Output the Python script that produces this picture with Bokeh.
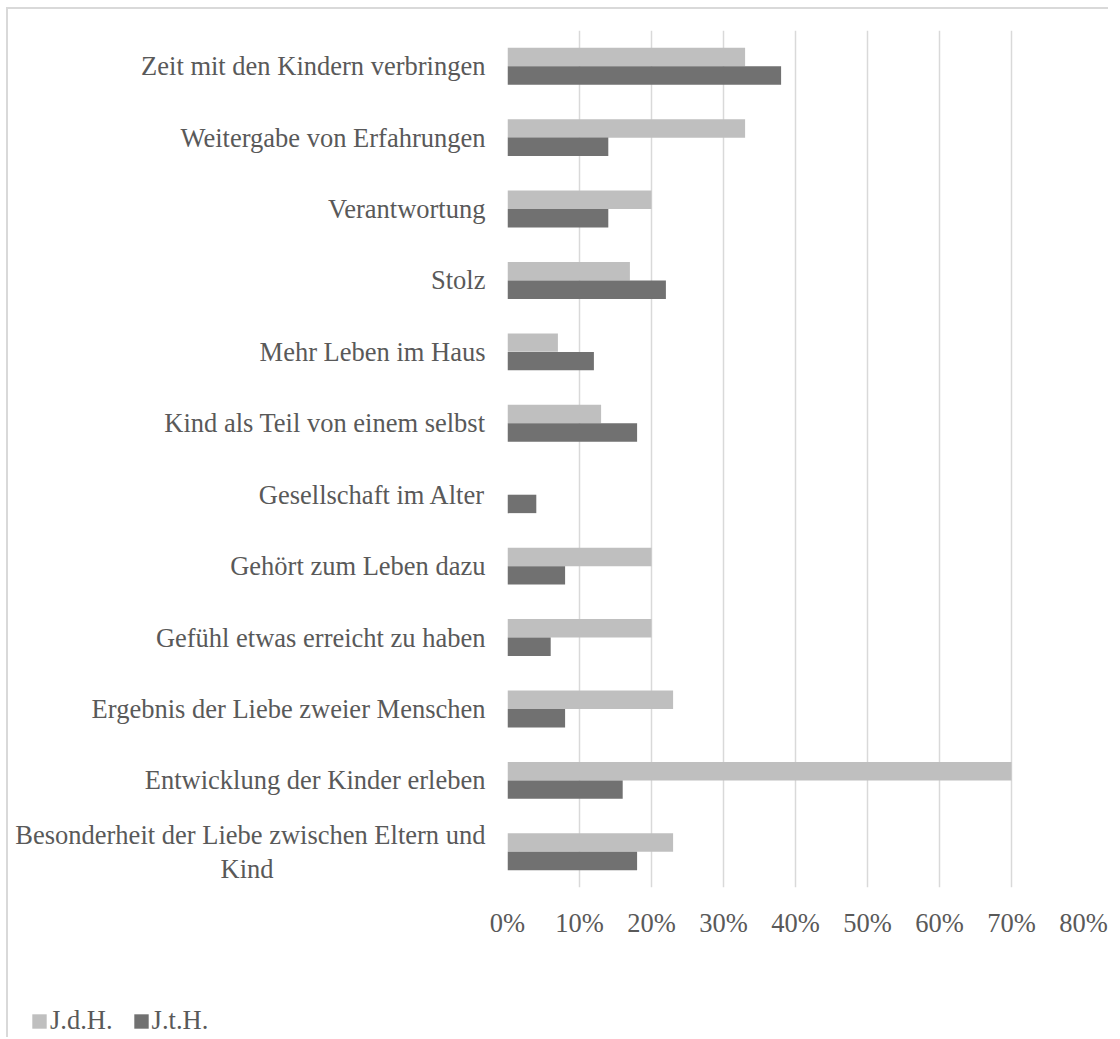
from bokeh.plotting import figure
from bokeh.layouts import column
from bokeh.models import FactorRange, Range1d, FixedTicker, NumeralTickFormatter, Legend, LegendItem, ColumnDataSource
from bokeh.transform import dodge
from bokeh.embed import file_html
from bokeh.resources import INLINE

categories = [
    "Zeit mit den Kindern verbringen",
    "Weitergabe von Erfahrungen",
    "Verantwortung",
    "Stolz",
    "Mehr Leben im Haus",
    "Kind als Teil von einem selbst",
    "Gesellschaft im Alter",
    "Gehört zum Leben dazu",
    "Gefühl etwas erreicht zu haben",
    "Ergebnis der Liebe zweier Menschen",
    "Entwicklung der Kinder erleben",
    "Besonderheit der Liebe zwischen Eltern und\nKind" + "\u00a0" * 32,
]
jdh = [0.33, 0.33, 0.20, 0.17, 0.07, 0.13, 0.0, 0.20, 0.20, 0.23, 0.70, 0.23]
jth = [0.38, 0.14, 0.14, 0.22, 0.12, 0.18, 0.04, 0.08, 0.06, 0.08, 0.16, 0.18]
series_names = ["J.d.H.", "J.t.H."]
series_colors = ["#bfbfbf", "#717171"]
x_ticks = [0.0, 0.1, 0.2, 0.3, 0.4, 0.5, 0.6, 0.7, 0.8]

FONT = "Liberation Serif"
TXT = "#595959"
FS = "26.5px"
W = 1100

src = ColumnDataSource(dict(cat=categories, jdh=jdh, jth=jth))

p = figure(
    width=W, height=958,
    y_range=FactorRange(factors=list(reversed(categories))),
    x_range=Range1d(0, 0.8),
    output_backend="svg", toolbar_location=None,
    min_border_left=499, min_border_right=25, min_border_top=21, min_border_bottom=80,
)
p.frame_align = False
p.outline_line_color = None
p.background_fill_color = "white"
p.border_fill_color = "white"

bh = 0.258
r1 = p.hbar(y=dodge("cat", 0.129, range=p.y_range), right="jdh", left=0, height=bh,
            source=src, fill_color=series_colors[0], line_color=None)
r2 = p.hbar(y=dodge("cat", -0.129, range=p.y_range), right="jth", left=0, height=bh,
            source=src, fill_color=series_colors[1], line_color=None)

p.xaxis.ticker = FixedTicker(ticks=x_ticks)
p.xaxis.formatter = NumeralTickFormatter(format="0%")
p.xaxis.axis_line_color = None
p.xaxis.major_tick_line_color = None
p.xaxis.minor_tick_line_color = None
p.xaxis.major_label_text_font = FONT
p.xaxis.major_label_text_font_size = FS
p.xaxis.major_label_text_color = TXT
p.xaxis.major_label_standoff = 14

p.yaxis.axis_line_color = None
p.yaxis.major_tick_line_color = None
p.yaxis.minor_tick_line_color = None
p.yaxis.major_label_text_font = FONT
p.yaxis.major_label_text_font_size = FS
p.yaxis.major_label_text_color = TXT
p.yaxis.major_label_text_line_height = 1.13
p.yaxis.major_label_standoff = 16

p.xgrid.ticker = FixedTicker(ticks=x_ticks)
p.xgrid.grid_line_color = "#d9d9d9"
p.xgrid.grid_line_width = 1.5
p.ygrid.grid_line_color = None

# legend strip below the chart (its swatch glyphs sit outside the visible range)
lg = figure(
    width=W, height=70, x_range=Range1d(0, 1), y_range=Range1d(0, 1),
    output_backend="svg", toolbar_location=None,
    x_axis_type=None, y_axis_type=None,
    min_border_left=0, min_border_right=0, min_border_top=0, min_border_bottom=0,
)
lg.frame_align = False
lg.outline_line_color = None
lg.xgrid.visible = False
lg.ygrid.visible = False
swatch = ColumnDataSource(dict(y=[-5.0], right=[0.0]))
l1 = lg.hbar(y="y", right="right", left=0, height=0.1, source=swatch,
             fill_color=series_colors[0], line_color=None)
l2 = lg.hbar(y="y", right="right", left=0, height=0.1, source=swatch,
             fill_color=series_colors[1], line_color=None)
legend = Legend(
    items=[LegendItem(label=series_names[0], renderers=[l1]),
           LegendItem(label=series_names[1], renderers=[l2])],
    orientation="horizontal",
    location=(22, 1),
    glyph_width=18, glyph_height=18,
    label_standoff=2, spacing=19, padding=0, margin=0,
    border_line_color=None, background_fill_alpha=0,
    label_text_font=FONT, label_text_font_size=FS, label_text_color=TXT,
)
lg.add_layout(legend, "center")

layout = column(p, lg, spacing=0, styles={
    "border-left": "2px solid #d9d9d9", "border-top": "2px solid #d9d9d9",
    "margin-left": "6px", "margin-top": "7px"})

open("out.html", "w").write(file_html(layout, INLINE))
